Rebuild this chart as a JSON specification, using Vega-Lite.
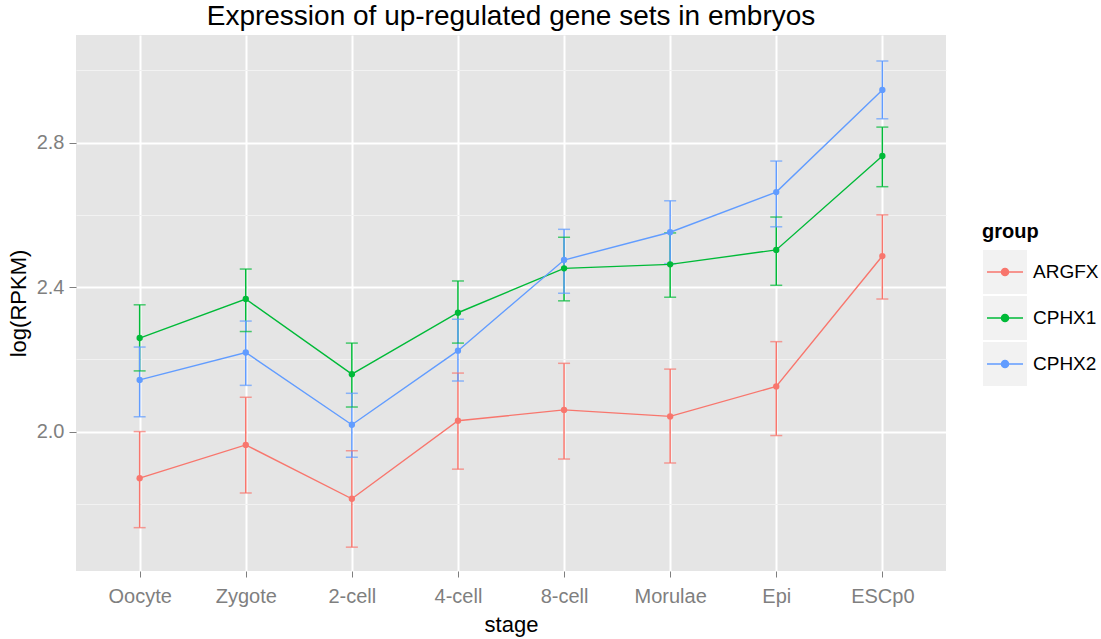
{
  "$schema": "https://vega.github.io/schema/vega-lite/v6.json",
  "width": 870,
  "height": 536,
  "autosize": {"type": "none"},
  "padding": {"left": 76, "top": 35, "right": 155, "bottom": 68},
  "title": {"text": "Expression of up-regulated gene sets in embryos", "fontSize": 28, "fontWeight": "normal", "anchor": "middle", "baseline": "alphabetic", "offset": 6, "dy": 24, "color": "#000000", "font": "Liberation Sans"},
  "data": {"values": [
    {"stage": "Oocyte", "group": "ARGFX", "mean": 1.871, "lower": 1.734, "upper": 2.000},
    {"stage": "Oocyte", "group": "CPHX1", "mean": 2.259, "lower": 2.168, "upper": 2.351},
    {"stage": "Oocyte", "group": "CPHX2", "mean": 2.143, "lower": 2.041, "upper": 2.234},
    {"stage": "Zygote", "group": "ARGFX", "mean": 1.963, "lower": 1.830, "upper": 2.095},
    {"stage": "Zygote", "group": "CPHX1", "mean": 2.367, "lower": 2.277, "upper": 2.450},
    {"stage": "Zygote", "group": "CPHX2", "mean": 2.219, "lower": 2.128, "upper": 2.306},
    {"stage": "2-cell", "group": "ARGFX", "mean": 1.814, "lower": 1.680, "upper": 1.947},
    {"stage": "2-cell", "group": "CPHX1", "mean": 2.159, "lower": 2.068, "upper": 2.245},
    {"stage": "2-cell", "group": "CPHX2", "mean": 2.019, "lower": 1.929, "upper": 2.106},
    {"stage": "4-cell", "group": "ARGFX", "mean": 2.030, "lower": 1.896, "upper": 2.162},
    {"stage": "4-cell", "group": "CPHX1", "mean": 2.329, "lower": 2.245, "upper": 2.417},
    {"stage": "4-cell", "group": "CPHX2", "mean": 2.224, "lower": 2.140, "upper": 2.311},
    {"stage": "8-cell", "group": "ARGFX", "mean": 2.060, "lower": 1.924, "upper": 2.189},
    {"stage": "8-cell", "group": "CPHX1", "mean": 2.452, "lower": 2.362, "upper": 2.538},
    {"stage": "8-cell", "group": "CPHX2", "mean": 2.475, "lower": 2.383, "upper": 2.560},
    {"stage": "Morulae", "group": "ARGFX", "mean": 2.042, "lower": 1.913, "upper": 2.173},
    {"stage": "Morulae", "group": "CPHX1", "mean": 2.463, "lower": 2.372, "upper": 2.550},
    {"stage": "Morulae", "group": "CPHX2", "mean": 2.552, "lower": 2.465, "upper": 2.639},
    {"stage": "Epi", "group": "ARGFX", "mean": 2.125, "lower": 1.989, "upper": 2.249},
    {"stage": "Epi", "group": "CPHX1", "mean": 2.503, "lower": 2.405, "upper": 2.594},
    {"stage": "Epi", "group": "CPHX2", "mean": 2.663, "lower": 2.567, "upper": 2.749},
    {"stage": "ESCp0", "group": "ARGFX", "mean": 2.486, "lower": 2.367, "upper": 2.600},
    {"stage": "ESCp0", "group": "CPHX1", "mean": 2.763, "lower": 2.678, "upper": 2.843},
    {"stage": "ESCp0", "group": "CPHX2", "mean": 2.946, "lower": 2.866, "upper": 3.026}
  ]},
  "encoding": {
    "x": {
      "field": "stage", "type": "nominal",
      "sort": ["Oocyte", "Zygote", "2-cell", "4-cell", "8-cell", "Morulae", "Epi", "ESCp0"],
      "scale": {"type": "point", "padding": 0.6},
      "axis": {"title": "stage", "titleFontSize": 22, "titleFontWeight": "normal", "titleColor": "#000000", "titlePadding": 8,
        "labelFontSize": 20, "labelColor": "#7F7F7F", "labelAngle": 0, "labelPadding": 9,
        "tickColor": "#7F7F7F", "tickSize": 6, "tickWidth": 1, "domain": false,
        "grid": true, "gridColor": "#FFFFFF", "gridWidth": 2}
    }
  },
  "layer": [
    {
      "mark": {"type": "square", "opacity": 0, "size": 1},
      "encoding": {
        "y": {"field": "mean", "type": "quantitative"},
        "fill": {
          "field": "group", "type": "nominal",
          "scale": {"domain": ["ARGFX", "CPHX1", "CPHX2"], "range": ["#F2F2F2", "#F2F2F2", "#F2F2F2"]},
          "legend": {
            "orient": "none", "legendX": 906, "legendY": 187, "padding": 0,
            "title": "group", "titleFontSize": 20, "titleFontWeight": "bold", "titleColor": "transparent", "titlePadding": 7,
            "labelFontSize": 19, "labelColor": "transparent", "labelOffset": 5, "rowPadding": 0, "clipHeight": 46,
            "symbolType": "square", "symbolSize": 1936, "symbolStrokeWidth": 1.5,
            "encode": {"symbols": {"update": {"fill": {"value": "#F2F2F2"}, "stroke": {"value": "transparent"}, "opacity": {"value": 1}, "size": {"value": 1936}, "strokeWidth": {"value": 1.5}}}}
          }
        }
      }
    },
    {
      "mark": {"type": "rule", "strokeWidth": 1.5},
      "encoding": {
        "y": {"field": "lower", "type": "quantitative"},
        "y2": {"field": "upper"},
        "color": {"field": "group", "type": "nominal"}
      }
    },
    {
      "mark": {"type": "tick", "size": 12, "thickness": 1.5},
      "encoding": {
        "y": {"field": "lower", "type": "quantitative"},
        "color": {"field": "group", "type": "nominal"}
      }
    },
    {
      "mark": {"type": "tick", "size": 12, "thickness": 1.5},
      "encoding": {
        "y": {"field": "upper", "type": "quantitative"},
        "color": {"field": "group", "type": "nominal"}
      }
    },
    {
      "mark": {"type": "line", "strokeWidth": 1.4},
      "encoding": {
        "y": {"field": "mean", "type": "quantitative"},
        "color": {"field": "group", "type": "nominal"}
      }
    },
    {
      "mark": {"type": "point", "filled": true, "size": 40, "opacity": 1},
      "encoding": {
        "y": {
          "field": "mean", "type": "quantitative",
          "scale": {"domain": [1.614, 3.098], "nice": false, "zero": false},
          "axis": {"title": "log(RPKM)", "titleFontSize": 22, "titleFontWeight": "normal", "titleColor": "#000000", "titlePadding": 6,
            "values": [1.8, 2.0, 2.2, 2.4, 2.6, 2.8, 3.0],
            "labelExpr": "round(datum.value*10) % 4 == 0 ? format(datum.value, '.1f') : ''",
            "labelFontSize": 20, "labelColor": "#7F7F7F", "labelPadding": 5,
            "tickColor": "#7F7F7F", "tickSize": 7, "tickWidth": 1, "domain": false,
            "tickOpacity": {"condition": {"test": "round(datum.value*10) % 4 == 0", "value": 1}, "value": 0},
            "grid": true,
            "gridColor": {"condition": {"test": "round(datum.value*10) % 4 == 0", "value": "#FFFFFF"}, "value": "#F2F2F2"},
            "gridWidth": {"condition": {"test": "round(datum.value*10) % 4 == 0", "value": 2}, "value": 1}}
        },
        "color": {
          "field": "group", "type": "nominal",
          "scale": {"range": ["#F8766D", "#00BA38", "#619CFF"]},
          "legend": {
            "orient": "none", "legendX": 906, "legendY": 187, "padding": 0,
            "title": "group", "titleFontSize": 20, "titleFontWeight": "bold", "titleColor": "#000000", "titlePadding": 7,
            "labelFontSize": 19, "labelColor": "#000000", "labelOffset": 5, "rowPadding": 0, "clipHeight": 46,
            "symbolType": "M-0.82,0L0.82,0M0.16,0A0.16,0.16,0,1,1,-0.16,0A0.16,0.16,0,1,1,0.16,0Z",
            "symbolSize": 1936, "symbolStrokeWidth": 1.5, "symbolOpacity": 1,
            "encode": {"symbols": {"update": {"fill": {"scale": "color", "field": "value"}, "stroke": {"scale": "color", "field": "value"}, "opacity": {"value": 1}, "size": {"value": 1936}, "strokeWidth": {"value": 1.5}}}}
          }
        }
      }
    }
  ],
  "config": {
    "font": "Liberation Sans",
    "view": {"fill": "#E5E5E5", "stroke": null},
    "axis": {"labelFont": "Liberation Sans", "titleFont": "Liberation Sans"},
    "legend": {"labelFont": "Liberation Sans", "titleFont": "Liberation Sans"}
  }
}
